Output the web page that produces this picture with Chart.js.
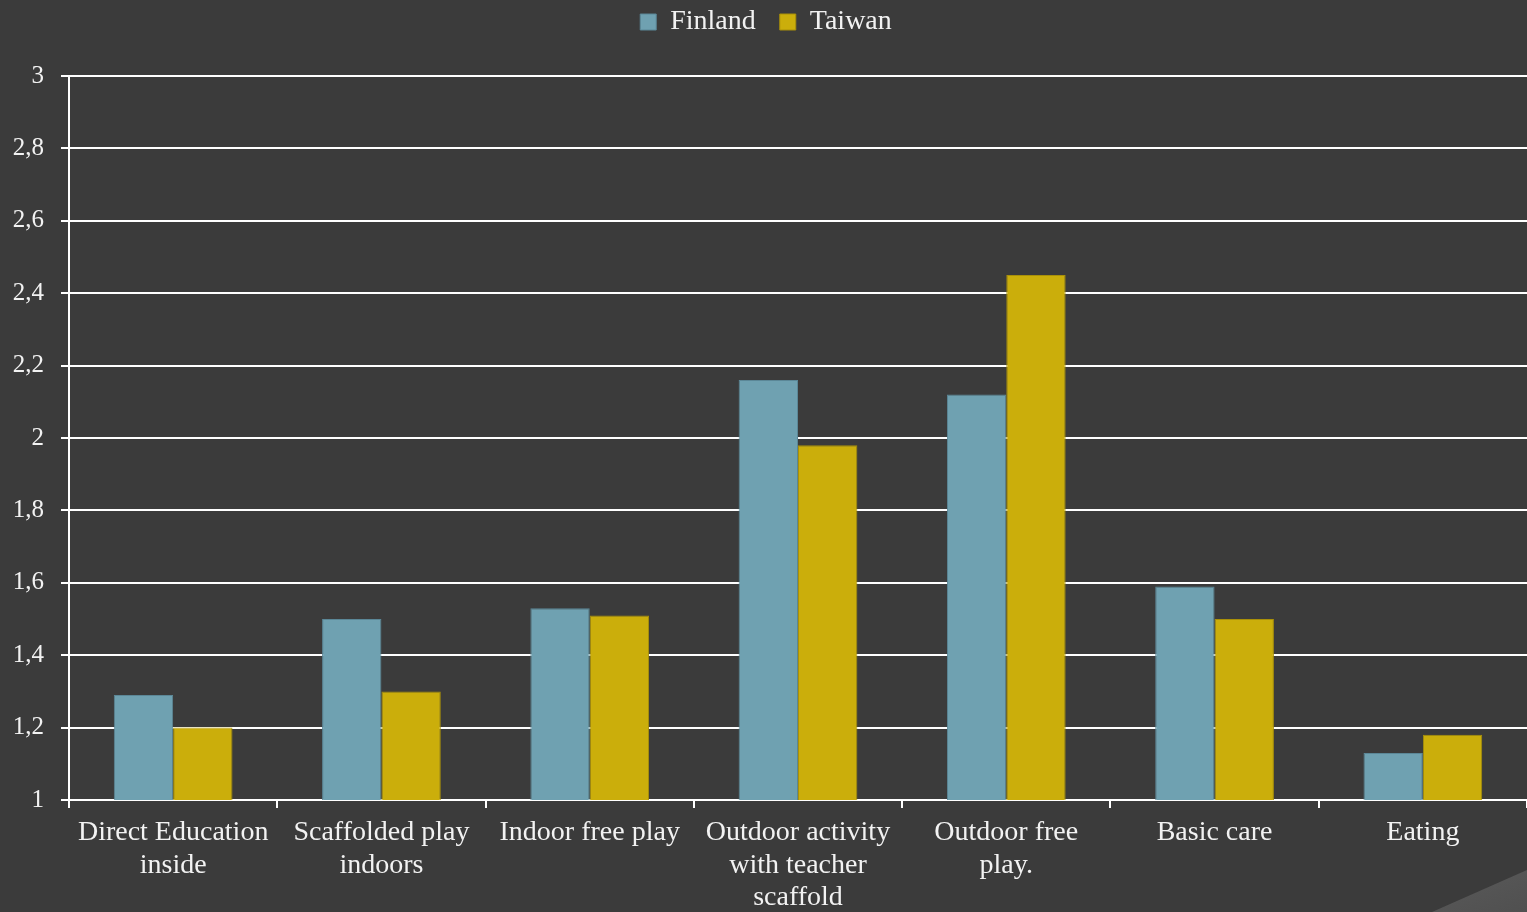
<!DOCTYPE html>
<html>
<head>
<meta charset="utf-8">
<script src="https://cdn.jsdelivr.net/npm/chart.js@4"></script>
<style>
    html, body { margin: 0; padding: 0; background: #3b3b3b; overflow: hidden; }
    #wrap { position: relative; width: 1527px; height: 912px; }
    #corner {
        position: absolute; right: 0; bottom: 0; width: 100px; height: 42px;
        background: linear-gradient(160deg, #5a5a5a, #505050);
        clip-path: polygon(100% 0, 100% 100%, 5% 100%);
    }
</style>
</head>
<body>
<div id="wrap">
    <div id="corner"></div>
    <canvas id="chart" width="1527" height="912"></canvas>
</div>
<script>
const categories = [
    ['Direct Education', 'inside'],
    ['Scaffolded play', 'indoors'],
    'Indoor free play',
    ['Outdoor activity', 'with teacher', 'scaffold'],
    ['Outdoor free', 'play.'],
    'Basic care',
    'Eating'
];
const finland = [1.29, 1.5, 1.53, 2.16, 2.12, 1.59, 1.13];
const taiwan = [1.2, 1.3, 1.51, 1.98, 2.45, 1.5, 1.18];
const yTicks = [1, 1.2, 1.4, 1.6, 1.8, 2, 2.2, 2.4, 2.6, 2.8, 3];

const serif = "'Liberation Serif', 'DejaVu Serif', serif";
Chart.defaults.font.family = serif;
Chart.defaults.color = '#f2f2f2';

// push the plot area down below the legend
const legendGap = {
    id: 'legendGap',
    beforeInit(chart) {
        const fit = chart.legend.fit;
        chart.legend.fit = function() {
            fit.bind(chart.legend)();
            this.height += 30;
        };
    }
};

const chartCanvas = document.getElementById('chart');
const barChart = new Chart(chartCanvas, {
    type: 'bar',
    data: {
        labels: categories,
        datasets: [
            {
                label: 'Finland',
                data: finland,
                backgroundColor: '#6fa1b1',
                borderColor: '#5b8797',
                borderWidth: 1
            },
            {
                label: 'Taiwan',
                data: taiwan,
                backgroundColor: '#cbae0b',
                borderColor: '#a99009',
                borderWidth: 1
            }
        ]
    },
    plugins: [legendGap],
    options: {
        responsive: false,
        animation: false,
        categoryPercentage: 0.57,
        barPercentage: 1,
        layout: { padding: { top: -16, right: -5, bottom: 0, left: 0 } },
        plugins: {
            legend: {
                position: 'top',
                labels: {
                    boxWidth: 16,
                    boxHeight: 16,
                    padding: 24,
                    color: '#f2f2f2',
                    font: { size: 28 }
                }
            },
            tooltip: { enabled: false }
        },
        scales: {
            x: {
                grid: {
                    offset: true,
                    drawOnChartArea: false,
                    drawTicks: true,
                    tickLength: 8,
                    color: '#ffffff',
                    lineWidth: 2
                },
                border: { color: '#ffffff', width: 2 },
                ticks: {
                    color: '#f2f2f2',
                    font: { size: 28, lineHeight: 1.15 },
                    maxRotation: 0,
                    autoSkip: false,
                    padding: 9
                },
                afterFit: (scale) => { scale.height = 112; }
            },
            y: {
                min: 1,
                max: 3,
                afterBuildTicks: (scale) => {
                    scale.ticks = yTicks.map((v) => ({ value: v }));
                },
                grid: {
                    color: '#ffffff',
                    lineWidth: 2,
                    tickLength: 8
                },
                border: { color: '#ffffff', width: 2 },
                ticks: {
                    color: '#f2f2f2',
                    font: { size: 25 },
                    padding: 17,
                    callback: (v) => String(Math.round(v * 10) / 10).replace('.', ',')
                },
                afterFit: (scale) => { scale.width = 69; }
            }
        }
    }
});
</script>
</body>
</html>
